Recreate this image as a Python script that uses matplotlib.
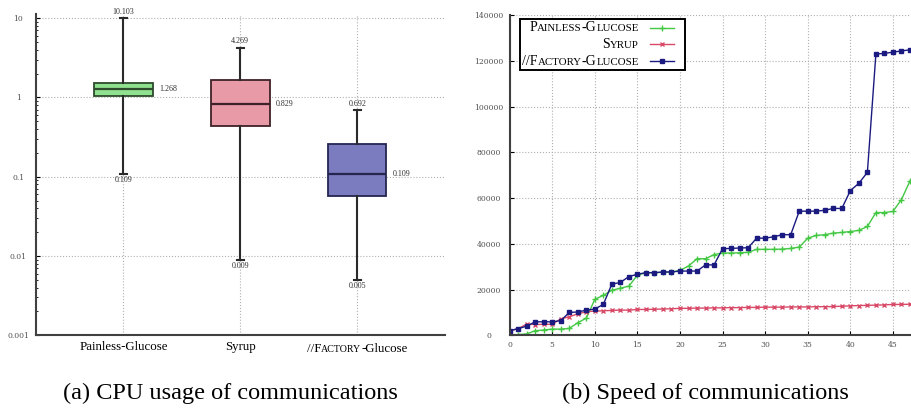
import numpy as np
import matplotlib
matplotlib.use('Agg')
from matplotlib import pyplot as plt
from matplotlib.lines import Line2D
from matplotlib.patches import Rectangle
from matplotlib.offsetbox import TextArea, HPacker, AnnotationBbox

# data: (a) CPU usage of communications
solvers = ['Painless-Glucose', 'Syrup', '//FACTORY-Glucose']
cpu_med = [1.268, 0.829, 0.109]
cpu_q1 = [1.05, 0.44, 0.058]
cpu_q3 = [1.51, 1.68, 0.262]
cpu_low = [0.109, 0.009, 0.005]
cpu_high = [10.103, 4.269, 0.692]

# data: (b) speed of communications
painless = [300, 300, 600, 2000, 2300, 2700, 2700, 3000, 5500, 7500,
            15700, 17500, 19700, 20600, 21500, 26300, 27400, 27400, 27600, 27700,
            28400, 30300, 33500, 33500, 35300, 36000, 36000, 36100, 36300, 37600,
            37600, 37600, 37700, 38000, 38600, 42500, 43700, 44000, 44700, 45000,
            45400, 45900, 47600, 53700, 53700, 54200, 59400, 67500]
syrup = [2000, 2900, 4900, 4700, 4800, 4800, 7200, 8100, 9400, 10300,
         10600, 10700, 10900, 11000, 11000, 11300, 11300, 11400, 11500, 11600,
         11800, 11800, 11900, 11900, 12000, 12000, 12100, 12100, 12200, 12200,
         12300, 12300, 12300, 12400, 12400, 12400, 12500, 12500, 12600, 12700,
         12900, 13000, 13100, 13200, 13300, 13500, 13500, 13600]
factory = [2000, 2900, 4000, 5900, 5900, 5900, 6400, 10000, 10200, 11000,
           11500, 13500, 22400, 23100, 25700, 26700, 27400, 27400, 27700, 27700,
           28100, 28100, 28100, 30800, 30800, 37900, 38000, 38200, 38300, 42500,
           42500, 43100, 44000, 44000, 54300, 54300, 54300, 54700, 55500, 55500,
           63300, 66500, 71300, 123100, 123300, 123900, 124400, 124900]

box_fill = ['#8fe08f', '#e89aa6', '#7b7bbf']
box_edge = ['#2d4a2d', '#3f2228', '#25254f']
line_colors = ['#44c844', '#d84a68', '#1a1a80']

serif = 'Liberation Serif'
tickfont = 'DejaVu Serif'
grid_kw = dict(color='#b0b0b0', linestyle=':', linewidth=0.8)


def small_caps(parts, big, small, color='black'):
    # parts: list of (text, is_big)
    boxes = [TextArea(t, textprops=dict(fontsize=big if b else small,
                                        family=serif, color=color))
             for t, b in parts]
    return HPacker(children=boxes, align='baseline', pad=0, sep=0)


fig = plt.figure(figsize=(9.12, 4.08), dpi=100)

# ---------- (a) box plot ----------
ax1 = fig.add_axes([0.0391, 0.1782, 0.4488, 0.7875])
stats = []
for i in range(len(solvers)):
    stats.append(dict(med=cpu_med[i], q1=cpu_q1[i], q3=cpu_q3[i],
                      whislo=cpu_low[i], whishi=cpu_high[i], fliers=[]))
pos = np.arange(1, len(solvers) + 1)
bp = ax1.bxp(stats, positions=pos, widths=0.5, capwidths=0.06,
             patch_artist=True, showfliers=False)
for i, box in enumerate(bp['boxes']):
    box.set_facecolor(box_fill[i])
    box.set_edgecolor(box_edge[i])
    box.set_linewidth(1.3)
    bp['medians'][i].set_color(box_edge[i])
    bp['medians'][i].set_linewidth(1.6)
for w in bp['whiskers'] + bp['caps']:
    w.set_color('#2a2a2a')
    w.set_linewidth(1.5)

ax1.set_yscale('log')
ax1.set_ylim(0.001, 11.3)
ax1.set_xlim(0.25, 3.75)
ax1.set_yticks([0.001, 0.01, 0.1, 1, 10])
ax1.set_yticklabels(['0.001', '0.01', '0.1', '1', '10'])
ax1.set_xticks(pos)
ax1.set_xticklabels(['Painless-Glucose', 'Syrup', ''], family=serif, fontsize=9.3)
for lab in ax1.get_yticklabels():
    lab.set_family(tickfont)
    lab.set_fontsize(5.5)
    lab.set_color('#505050')
    lab.set_horizontalalignment('center')
ax1.tick_params(axis='y', which='both', direction='in', pad=12.5, length=3)
ax1.tick_params(axis='y', which='minor', length=1.5)
ax1.tick_params(axis='x', length=0, pad=4)
ax1.grid(True, which='major', **grid_kw)

fac = small_caps([('//F', True), ('ACTORY', False), ('-Glucose', True)], 9.3, 7.2)
ab = AnnotationBbox(fac, (3, 0), xycoords=('data', 'axes fraction'),
                    xybox=(0, -10), boxcoords='offset points',
                    box_alignment=(0.5, 0.5), frameon=False, pad=0,
                    annotation_clip=False)
ax1.add_artist(ab)

for i, p in enumerate(pos):
    ax1.annotate('%.3f' % cpu_high[i], xy=(p, cpu_high[i]), xytext=(0, 1.5),
                 textcoords='offset points', ha='center', va='bottom',
                 family=serif, fontsize=5.8, color='#303030')
    ax1.annotate('%.3f' % cpu_low[i], xy=(p, cpu_low[i]), xytext=(0, -1.5),
                 textcoords='offset points', ha='center', va='top',
                 family=serif, fontsize=5.8, color='#303030')
    ax1.annotate('%.3f' % cpu_med[i], xy=(p + 0.25, cpu_med[i]), xytext=(4.5, 0),
                 textcoords='offset points', ha='left', va='center',
                 family=serif, fontsize=5.8, color='#303030')

# ---------- (b) speed ----------
ax2 = fig.add_axes([0.5588, 0.1782, 0.467, 0.7843])
xs = np.arange(len(factory))
ax2.plot(xs, painless, color=line_colors[0], marker='+', ms=4.5, mew=1, lw=1)
ax2.plot(xs, syrup, color=line_colors[1], marker='x', ms=3.5, mew=1, lw=1)
ax2.plot(xs, factory, color=line_colors[2], marker='s', ms=3, lw=1)
ax2.set_xlim(0, 50)
ax2.set_ylim(0, 140000)
ax2.set_xticks(np.arange(0, 46, 5))
ax2.set_yticks(np.arange(0, 140001, 20000))
ax2.set_yticklabels([str(v) for v in range(0, 140001, 20000)])
for lab in ax2.get_yticklabels() + ax2.get_xticklabels():
    lab.set_family(tickfont)
    lab.set_fontsize(5.5)
    lab.set_color('#505050')
for lab in ax2.get_yticklabels():
    lab.set_horizontalalignment('center')
ax2.tick_params(axis='y', direction='in', pad=15, length=3)
ax2.tick_params(axis='x', direction='in', pad=4, length=3)
ax2.grid(True, **grid_kw)

# legend drawn by hand to get the small caps labels
ax2.add_patch(Rectangle((0.0251, 0.83), 0.386, 0.1575, transform=ax2.transAxes,
                        facecolor='white', edgecolor='black', lw=1.4, zorder=5))
rows = [0.961, 0.909, 0.857]
labels = [
    [('P', True), ('AINLESS', False), ('-G', True), ('LUCOSE', False)],
    [('S', True), ('YRUP', False)],
    [('//F', True), ('ACTORY', False), ('-G', True), ('LUCOSE', False)],
]
markers = [('+', 4.5), ('x', 3.5), ('s', 3)]
for i, y in enumerate(rows):
    t = AnnotationBbox(small_caps(labels[i], 10, 7.8), (0.303, y),
                       xycoords='axes fraction', box_alignment=(1, 0.5),
                       frameon=False, pad=0, zorder=6)
    ax2.add_artist(t)
    ax2.add_line(Line2D([0.329, 0.386], [y, y], transform=ax2.transAxes,
                        color=line_colors[i], lw=1, zorder=6))
    ax2.add_line(Line2D([0.3575], [y], transform=ax2.transAxes, color=line_colors[i],
                        marker=markers[i][0], ms=markers[i][1], mew=1, zorder=6))

for ax in (ax1, ax2):
    ax.spines['top'].set_visible(False)
    ax.spines['right'].set_visible(False)
    ax.spines['left'].set_linewidth(1.5)
    ax.spines['bottom'].set_linewidth(1.5)
    ax.spines['left'].set_color('#404040')
    ax.spines['bottom'].set_color('#404040')

fig.text(230 / 912, 1 - 393 / 408, '(a) CPU usage of communications',
         ha='center', va='center', family=serif, fontsize=17.5)
fig.text(705 / 912, 1 - 393 / 408, '(b) Speed of communications',
         ha='center', va='center', family=serif, fontsize=17.5)

fig.savefig('out.png', dpi=100)
